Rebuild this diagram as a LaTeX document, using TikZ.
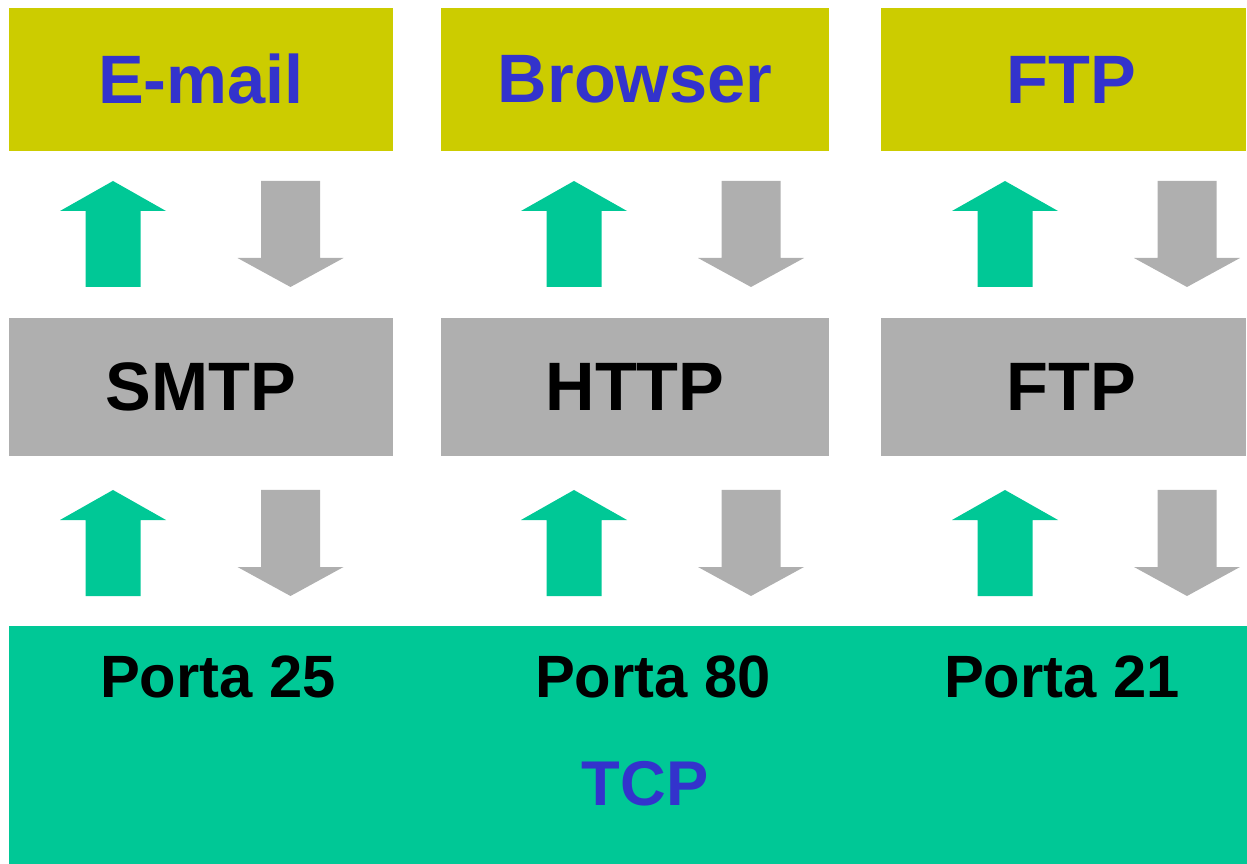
\documentclass[tikz,border=0pt]{standalone}
\usepackage{fontspec}
\setmainfont{Liberation Sans}
\usepackage{tikz}
\usetikzlibrary{positioning}

\definecolor{appYellow}{RGB}{204,204,0}
\definecolor{protoGray}{RGB}{175,175,175}
\definecolor{tcpGreen}{RGB}{0,200,150}
\definecolor{labelBlue}{RGB}{51,51,204}

% block arrows: #1 = centre x, #2 = top y (pixels, y downwards)
\newcommand{\uparr}[2]{%
  \fill[tcpGreen] (#1-27.5,#2+106) -- (#1-27.5,#2+30) -- (#1-53,#2+30)
    -- (#1,#2) -- (#1+53,#2+30) -- (#1+27.5,#2+30) -- (#1+27.5,#2+106) -- cycle;}
\newcommand{\dnarr}[2]{%
  \fill[protoGray] (#1-29.5,#2) -- (#1-29.5,#2+77) -- (#1-53,#2+77)
    -- (#1,#2+106) -- (#1+53,#2+77) -- (#1+29.5,#2+77) -- (#1+29.5,#2) -- cycle;}

\begin{document}
\begin{tikzpicture}[x=0.02cm, y=-0.02cm,
  appbox/.style={rectangle, fill=appYellow, inner sep=0pt, minimum height=2.86cm,
    text=labelBlue, font=\fontsize{39}{40}\selectfont\bfseries},
  protobox/.style={rectangle, fill=protoGray, inner sep=0pt, minimum height=2.76cm,
    text=black, font=\fontsize{39}{40}\selectfont\bfseries},
  portlabel/.style={inner sep=0pt, text=black, font=\fontsize{34}{36}\selectfont\bfseries}]

  \useasboundingbox (0,0) rectangle (1247,864);

  % applications
  \node[appbox, minimum width=7.68cm] (mail)    at (201,79.5)    {E-mail};
  \node[appbox, minimum width=7.76cm] (browser) at (635,79.5)    {Browser};
  \node[appbox, minimum width=7.30cm] (ftpapp)  at (1063.5,79.5) {\hspace{0.3cm}FTP};

  % protocols
  \node[protobox, minimum width=7.68cm] (smtp) at (201,387)    {SMTP};
  \node[protobox, minimum width=7.76cm] (http) at (635,387)    {HTTP};
  \node[protobox, minimum width=7.30cm] (ftp)  at (1063.5,387) {\hspace{0.3cm}FTP};

  % transport layer
  \node[rectangle, fill=tcpGreen, inner sep=0pt, minimum width=24.76cm, minimum height=4.76cm]
    (tcp) at (628,745) {};
  \node[text=labelBlue, inner sep=0pt, font=\fontsize{36}{38}\selectfont\bfseries]
    (tcplabel) at (645,784) {TCP};
  \node[portlabel] (p25) at (218,677)  {Porta 25};
  \node[portlabel] (p80) at (653,677)  {Porta 80};
  \node[portlabel] (p21) at (1062,677) {Porta 21};

  % arrows application <-> protocol
  \uparr{113}{181}  \dnarr{290.5}{181}
  \uparr{574}{181}  \dnarr{751}{181}
  \uparr{1005}{181} \dnarr{1187}{181}

  % arrows protocol <-> tcp
  \uparr{113}{490}  \dnarr{290.5}{490}
  \uparr{574}{490}  \dnarr{751}{490}
  \uparr{1005}{490} \dnarr{1187}{490}

\end{tikzpicture}
\end{document}
